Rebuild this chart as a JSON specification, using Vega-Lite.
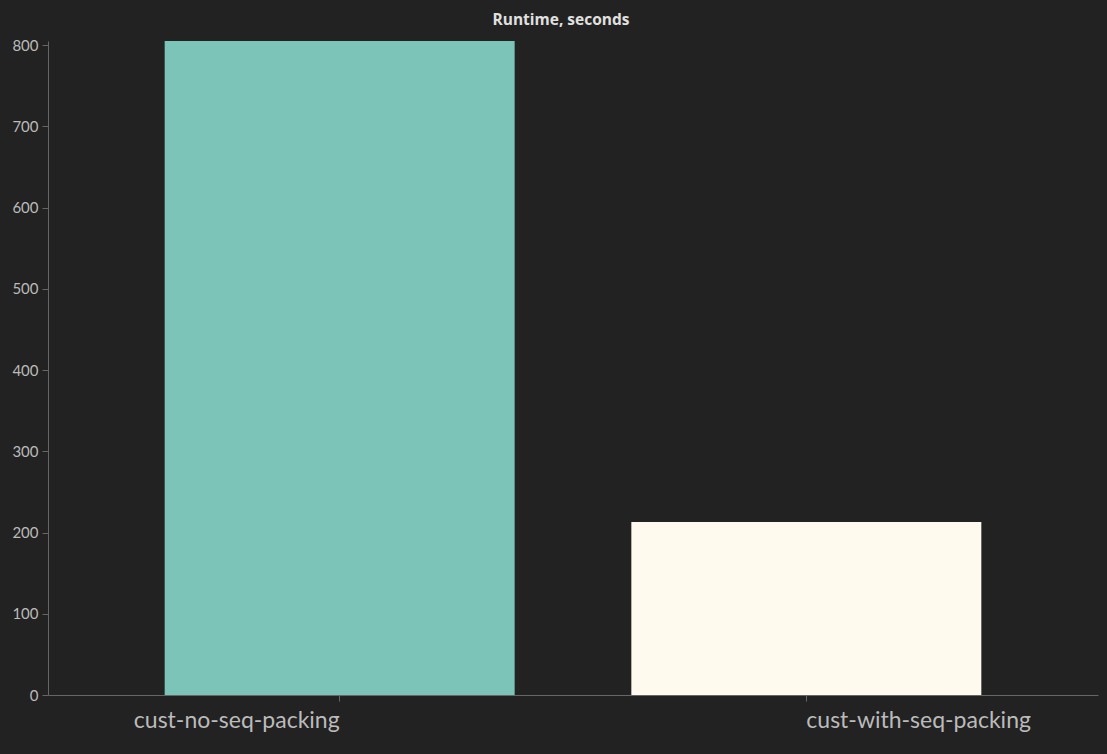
{
  "$schema": "https://vega.github.io/schema/vega-lite/v6.json",
  "autosize": "none",
  "width": 1050,
  "height": 654,
  "padding": {"left": 48, "top": 41, "right": 9, "bottom": 59},
  "background": "#222222",
  "title": {
    "text": "Runtime, seconds",
    "fontSize": 15.5,
    "font": "Open Sans",
    "fontWeight": "bold",
    "color": "#e0e0e0",
    "offset": 10,
    "dx": -12
  },
  "data": {
    "values": [
      {"run": "cust-no-seq-packing", "runtime": 805},
      {"run": "cust-with-seq-packing", "runtime": 213}
    ]
  },
  "mark": {"type": "bar"},
  "encoding": {
    "x": {
      "field": "run",
      "type": "nominal",
      "title": null,
      "scale": {"paddingInner": 0.25, "paddingOuter": 0.25},
      "axis": {
        "labelAngle": 0,
        "labelAlign": {"expr": "datum.index == 0 ? 'right' : 'left'"},
        "labelLimit": 0,
        "labelFontSize": 23,
        "labelFont": "Lato",
        "labelColor": "#bbbbbb",
        "labelPadding": 8,
        "tickColor": "#666666",
        "domainColor": "#666666",
        "tickSize": 6
      }
    },
    "y": {
      "field": "runtime",
      "type": "quantitative",
      "title": null,
      "scale": {"nice": false, "domain": [0, 805]},
      "axis": {
        "values": [0, 100, 200, 300, 400, 500, 600, 700, 800],
        "grid": false,
        "labelFontSize": 15,
        "labelFont": "Lato",
        "labelColor": "#bbbbbb",
        "labelPadding": 4,
        "tickColor": "#666666",
        "domainColor": "#666666",
        "tickSize": 6
      }
    },
    "color": {
      "field": "run",
      "type": "nominal",
      "scale": {"range": ["#7cc3b8", "#fffaed"]},
      "legend": null
    }
  },
  "config": {"view": {"stroke": null}}
}
